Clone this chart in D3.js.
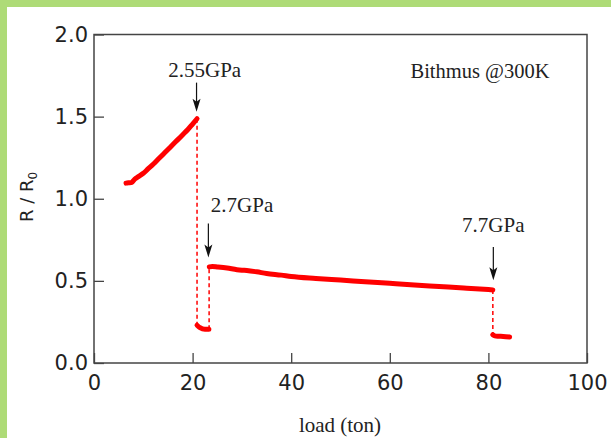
<!DOCTYPE html>
<html><head><meta charset="utf-8">
<script src="https://cdn.jsdelivr.net/npm/d3@7"></script>
<style>
html,body{margin:0;padding:0;background:#fff;}
svg{display:block;}
</style></head>
<body>
<svg id="chart" width="611" height="438"></svg>
<script>
// ---- data ----
const seg1Load = [6.5, 7.0, 7.7, 8.0, 8.3, 9, 10, 11, 12, 13, 14, 15, 16, 17, 18, 19, 20, 20.9];
const seg1Val  = [1.095, 1.097, 1.10, 1.11, 1.12, 1.135, 1.155, 1.183, 1.21, 1.24, 1.27, 1.30, 1.33, 1.36, 1.39, 1.42, 1.455, 1.487];
const seg2Load = [20.9, 21.5, 22.5, 23.3];
const seg2Val  = [0.23, 0.215, 0.205, 0.205];
const seg3Load = [23.4, 24, 25, 27, 29, 30, 31, 33, 35, 38, 40, 45, 50, 55, 60, 65, 70, 75, 80, 80.9];
const seg3Val  = [0.585, 0.588, 0.585, 0.578, 0.568, 0.565, 0.563, 0.555, 0.545, 0.535, 0.527, 0.515, 0.505, 0.495, 0.485, 0.475, 0.466, 0.457, 0.447, 0.445];
const seg4Load = [80.9, 81.3, 82, 83, 84.3];
const seg4Val  = [0.172, 0.165, 0.163, 0.162, 0.158];
// dashed jumps: [load, from, to]
const jumpLoad = [20.9, 23.35, 80.9];
const jumpFrom = [1.487, 0.205, 0.445];
const jumpTo   = [0.23, 0.585, 0.172];
// annotations
const annoLabels = ["2.55GPa", "2.7GPa", "7.7GPa"];
const annoLoad   = [20.8, 23.2, 81.0];
const annoTip    = [1.53, 0.643, 0.504];
const annoTail   = [1.707, 0.85, 0.707];
const annoTextLoad = [22.46, 23.7, 81.0];
const annoTextVal  = [1.744, 0.917, 0.795];
const annoAnchor   = ["middle", "start", "middle"];
const xTicks = [0, 20, 40, 60, 80, 100];
const yTicks = [0, 0.5, 1.0, 1.5, 2.0];

// ---- layout ----
const svg = d3.select("#chart");
const L = 94, R = 587, T = 34.5, B = 363;
const x = d3.scaleLinear().domain([0, 100]).range([L, R]);
const y = d3.scaleLinear().domain([0, 2]).range([B, T]);

// green frame
svg.append("rect").attr("x", 0).attr("y", 0).attr("width", 611).attr("height", 7).attr("fill", "#aedb77");
svg.append("rect").attr("x", 0).attr("y", 0).attr("width", 7).attr("height", 438).attr("fill", "#aedb77");

const axisColor = "#444";
const xAxis = d3.axisBottom(x).tickValues(xTicks).tickFormat(d3.format("d"))
  .tickSizeInner(-10).tickSizeOuter(0).tickPadding(12);
const yAxis = d3.axisLeft(y).tickValues(yTicks).tickFormat(d3.format(".1f"))
  .tickSizeInner(-10).tickSizeOuter(0).tickPadding(6);

const gx = svg.append("g").attr("transform", `translate(0,${B})`).call(xAxis);
const gy = svg.append("g").attr("transform", `translate(${L},0)`).call(yAxis);
[gx, gy].forEach(g => {
  g.select(".domain").remove();
  g.selectAll(".tick line").attr("stroke", axisColor).attr("stroke-width", 1.3);
  g.selectAll(".tick text").attr("fill", "#222")
    .attr("font-family", "DejaVu Sans, sans-serif").attr("font-size", 21);
});

// box
svg.append("rect").attr("x", L).attr("y", T).attr("width", R - L).attr("height", B - T)
  .attr("fill", "none").attr("stroke", axisColor).attr("stroke-width", 1.5);

// dashed jumps
const red = "#ff0000";
jumpLoad.forEach((l, i) => {
  svg.append("line").attr("x1", x(l)).attr("x2", x(l))
    .attr("y1", y(jumpFrom[i])).attr("y2", y(jumpTo[i]))
    .attr("stroke", red).attr("stroke-width", 1.5).attr("stroke-dasharray", "4,3");
});

// data segments
const line = d3.line().x(d => x(d[0])).y(d => y(d[1])).curve(d3.curveMonotoneX);
const segs = [[seg1Load, seg1Val], [seg2Load, seg2Val], [seg3Load, seg3Val], [seg4Load, seg4Val]];
segs.forEach(([ls, vs]) => {
  svg.append("path").datum(ls.map((l, i) => [l, vs[i]]))
    .attr("d", line).attr("fill", "none").attr("stroke", red)
    .attr("stroke-width", 5).attr("stroke-linecap", "round").attr("stroke-linejoin", "round");
});

// arrows
annoLabels.forEach((lab, i) => {
  const ax = x(annoLoad[i]), tip = y(annoTip[i]);
  svg.append("line").attr("x1", ax).attr("x2", ax)
    .attr("y1", y(annoTail[i])).attr("y2", tip - 4)
    .attr("stroke", "#111").attr("stroke-width", 1.2);
  svg.append("path")
    .attr("d", `M${ax - 4},${tip - 13} L${ax},${tip} L${ax + 4},${tip - 13} L${ax},${tip - 10} Z`)
    .attr("fill", "#111");
  svg.append("text").attr("x", x(annoTextLoad[i])).attr("y", y(annoTextVal[i]))
    .attr("text-anchor", annoAnchor[i])
    .attr("font-family", "Liberation Serif, Times New Roman, serif").attr("font-size", 21)
    .attr("fill", "#222").text(lab);
});

svg.append("text").attr("x", 480).attr("y", 78.3).attr("text-anchor", "middle")
  .attr("font-family", "Liberation Serif, Times New Roman, serif").attr("font-size", 20.5)
  .attr("fill", "#222").text("Bithmus @300K");

// axis titles
svg.append("text").attr("x", (L + R) / 2 - 0.5).attr("y", 432).attr("text-anchor", "middle")
  .attr("font-family", "Liberation Serif, Times New Roman, serif").attr("font-size", 21)
  .attr("fill", "#222").text("load (ton)");

const yt = svg.append("text").attr("transform", "translate(33,197) rotate(-90)")
  .attr("text-anchor", "middle").attr("font-family", "DejaVu Sans, sans-serif")
  .attr("font-size", 18).attr("fill", "#222");
yt.append("tspan").text("R / R");
yt.append("tspan").attr("font-size", 12).attr("dy", 4).text("0");
</script>
</body></html>
